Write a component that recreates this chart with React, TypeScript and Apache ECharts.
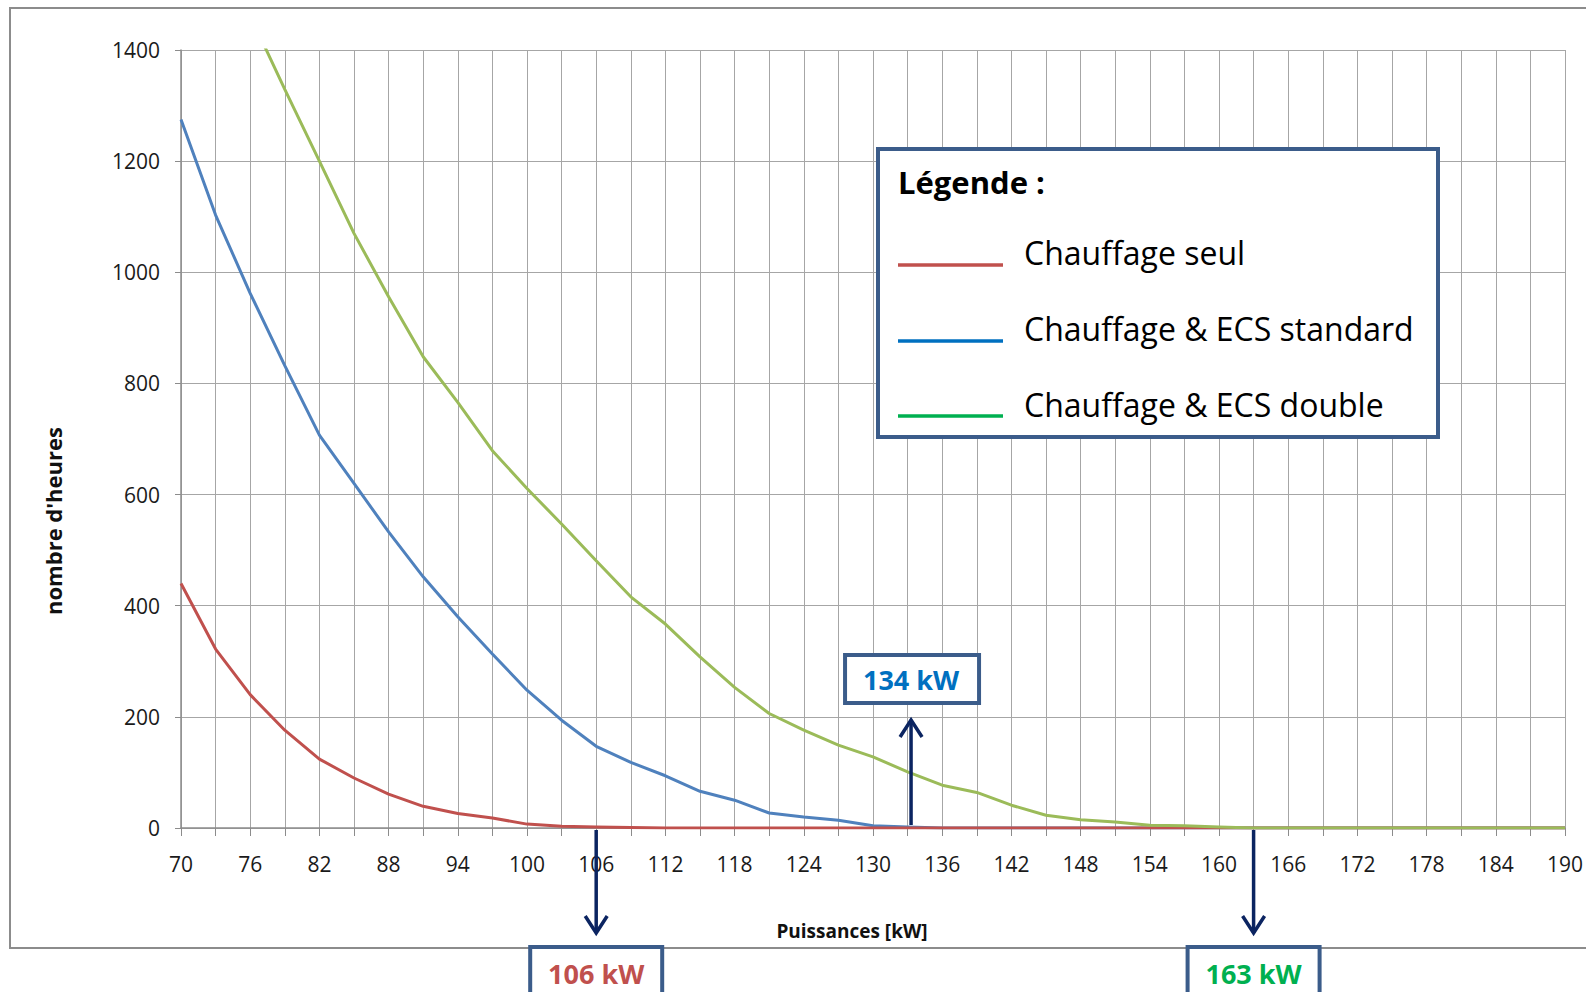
import React, { useEffect, useRef } from 'react';
import * as echarts from 'echarts';

// Puissances (kW) — one point every 3 kW
const puissances = [70, 73, 76, 79, 82, 85, 88, 91, 94, 97, 100, 103, 106, 109, 112, 115, 118, 121, 124, 127, 130, 133, 136, 139, 142, 145, 148, 151, 154, 157, 160, 163, 166, 169, 172, 175, 178, 181, 184, 187, 190];

// nombre d'heures
const chauffageSeul = [440, 322, 240, 176, 124, 90, 61, 39, 26, 18, 7, 3, 2, 1, 0, 0, 0, 0, 0, 0, 0, 0, 0, 0, 0, 0, 0, 0, 0, 0, 0, 0, 0, 0, 0, 0, 0, 0, 0, 0, 0];
const ecsStandard = [1275, 1103, 962, 832, 707, 620, 533, 452, 380, 313, 248, 194, 147, 118, 94, 66, 50, 27, 20, 14, 4, 2, 0, 0, 0, 0, 0, 0, 0, 0, 0, 0, 0, 0, 0, 0, 0, 0, 0, 0, 0];
const ecsDouble = [null, null, 1462, 1329, 1200, 1070, 956, 848, 766, 679, 611, 547, 481, 416, 367, 308, 253, 206, 176, 149, 128, 101, 77, 64, 41, 23, 15, 11, 5, 4, 2, 0, 0, 0, 0, 0, 0, 0, 0, 0, 0];

const xTickLabels = [70, 76, 82, 88, 94, 100, 106, 112, 118, 124, 130, 136, 142, 148, 154, 160, 166, 172, 178, 184, 190];

const seriesNames = ['Chauffage seul', 'Chauffage & ECS standard', 'Chauffage & ECS double'];
const seriesColors = ['#C0504D', '#4F81BD', '#9BBB59'];
const legendColors = ['#C0504D', '#0070C0', '#00B050'];

const annotations = [
  { label: '106 kW', x: 106, dir: 'down', color: '#C0504D' },
  { label: '134 kW', x: 133.3, dir: 'up', color: '#0070C0' },
  { label: '163 kW', x: 163, dir: 'down', color: '#00B050' },
];

const FONT = '"Open Sans", "Noto Sans", sans-serif';
const NAVY = '#0B2461';
const BOX = '#3B5C8A';

export default function App() {
  const ref = useRef<HTMLDivElement>(null);

  useEffect(() => {
    if (!ref.current) return;
    const chart = echarts.init(ref.current, undefined, { renderer: 'svg' });
    const toPairs = (arr: (number | null)[]) => puissances.map((x, i) => [x, arr[i]]);

    chart.setOption({
      animation: false,
      backgroundColor: '#ffffff',
      grid: { left: 181, top: 50, right: 14, bottom: 164, containLabel: false },
      xAxis: {
        type: 'value',
        min: 70,
        max: 190,
        interval: 3,
        axisLine: { show: true, onZero: true, lineStyle: { color: '#8c8c8c', width: 1.5 } },
        axisTick: { show: true, length: 8, lineStyle: { color: '#8c8c8c' } },
        axisLabel: {
          formatter: (v: number) => (xTickLabels.includes(v) ? String(v) : ''),
          fontSize: 21,
          fontFamily: FONT,
          color: '#1a1a1a',
          margin: 25,
          hideOverlap: false,
        },
        splitLine: { show: true, lineStyle: { color: '#a6a6a6', width: 1 } },
      },
      yAxis: {
        type: 'value',
        min: 0,
        max: 1400,
        interval: 200,
        axisLine: { show: true, lineStyle: { color: '#8c8c8c', width: 1.5 } },
        axisTick: { show: true, length: 6, lineStyle: { color: '#8c8c8c' } },
        axisLabel: { formatter: (v: number) => String(v), fontSize: 21, fontFamily: FONT, color: '#1a1a1a', margin: 21 },
        splitLine: { show: true, lineStyle: { color: '#a6a6a6', width: 1 } },
      },
      series: [
        { name: seriesNames[1], type: 'line', data: toPairs(ecsStandard), showSymbol: false, symbol: 'none', lineStyle: { color: seriesColors[1], width: 3 }, z: 3 },
        { name: seriesNames[0], type: 'line', data: toPairs(chauffageSeul), showSymbol: false, symbol: 'none', lineStyle: { color: seriesColors[0], width: 3 }, z: 4 },
        { name: seriesNames[2], type: 'line', data: toPairs(ecsDouble), showSymbol: false, symbol: 'none', connectNulls: false, lineStyle: { color: seriesColors[2], width: 3 }, z: 5 },
      ],
    });

    const graphics: any[] = [];
    // outer frame
    graphics.push({ type: 'rect', z: 0, silent: true, shape: { x: 10, y: 8, width: 1600, height: 940 }, style: { fill: 'none', stroke: '#8c8c8c', lineWidth: 2 } });
    // axis titles
    graphics.push({ type: 'text', z: 10, x: 53, y: 521, rotation: Math.PI / 2, style: { text: "nombre d'heures", fontSize: 22, fontWeight: 'bold', fontFamily: FONT, fill: '#111', align: 'center', verticalAlign: 'middle' } });
    graphics.push({ type: 'text', z: 10, x: 852, y: 931, style: { text: 'Puissances [kW]', fontSize: 19, fontWeight: 'bold', fontFamily: FONT, fill: '#111', align: 'center', verticalAlign: 'middle' } });

    // legend box
    graphics.push({ type: 'rect', z: 100, shape: { x: 878, y: 149, width: 560, height: 288 }, style: { fill: '#ffffff', stroke: BOX, lineWidth: 4 } });
    graphics.push({ type: 'text', z: 101, x: 898, y: 182, style: { text: 'Légende :', fontSize: 31, fontWeight: 'bold', fontFamily: FONT, fill: '#000', align: 'left', verticalAlign: 'middle' } });
    const legendRowsY = [265, 341, 416];
    const legendTextY = [252, 328, 404];
    seriesNames.forEach((n, i) => {
      graphics.push({ type: 'line', z: 101, shape: { x1: 898, y1: legendRowsY[i], x2: 1003, y2: legendRowsY[i] }, style: { stroke: legendColors[i], lineWidth: 3.5 } });
      graphics.push({ type: 'text', z: 101, x: 1024, y: legendTextY[i], style: { text: n, fontSize: 32, fontFamily: FONT, fill: '#000', align: 'left', verticalAlign: 'middle' } });
    });

    // annotations
    annotations.forEach((a) => {
      const [px, py0] = chart.convertToPixel({ gridIndex: 0 }, [a.x, 0]) as number[];
      if (a.dir === 'down') {
        const y1 = py0 + 2;
        const y2 = 933;
        graphics.push({ type: 'line', z: 120, shape: { x1: px, y1, x2: px, y2 }, style: { stroke: NAVY, lineWidth: 3.5 } });
        graphics.push({ type: 'polyline', z: 120, shape: { points: [[px - 11, y2 - 17], [px, y2], [px + 11, y2 - 17]] }, style: { stroke: NAVY, lineWidth: 3.5, fill: 'none' } });
        graphics.push({ type: 'rect', z: 110, shape: { x: px - 66, y: 947, width: 132, height: 70 }, style: { fill: '#ffffff', stroke: BOX, lineWidth: 4 } });
        graphics.push({ type: 'text', z: 111, x: px, y: 973, style: { text: a.label, fontSize: 27, fontWeight: 'bold', fontFamily: FONT, fill: a.color, align: 'center', verticalAlign: 'middle' } });
      } else {
        const y1 = py0 - 3;
        const y2 = 720;
        graphics.push({ type: 'line', z: 120, shape: { x1: px, y1, x2: px, y2 }, style: { stroke: NAVY, lineWidth: 3.5 } });
        graphics.push({ type: 'polyline', z: 120, shape: { points: [[px - 11, y2 + 17], [px, y2], [px + 11, y2 + 17]] }, style: { stroke: NAVY, lineWidth: 3.5, fill: 'none' } });
        graphics.push({ type: 'rect', z: 110, shape: { x: px - 66, y: 655, width: 134, height: 48 }, style: { fill: '#ffffff', stroke: BOX, lineWidth: 4 } });
        graphics.push({ type: 'text', z: 111, x: px, y: 679, style: { text: a.label, fontSize: 27, fontWeight: 'bold', fontFamily: FONT, fill: a.color, align: 'center', verticalAlign: 'middle' } });
      }
    });

    chart.setOption({ graphic: graphics });

    return () => chart.dispose();
  }, []);

  return <div ref={ref} style={{ position: 'fixed', left: 0, top: 0, width: 1586, height: 992 }} />;
}
